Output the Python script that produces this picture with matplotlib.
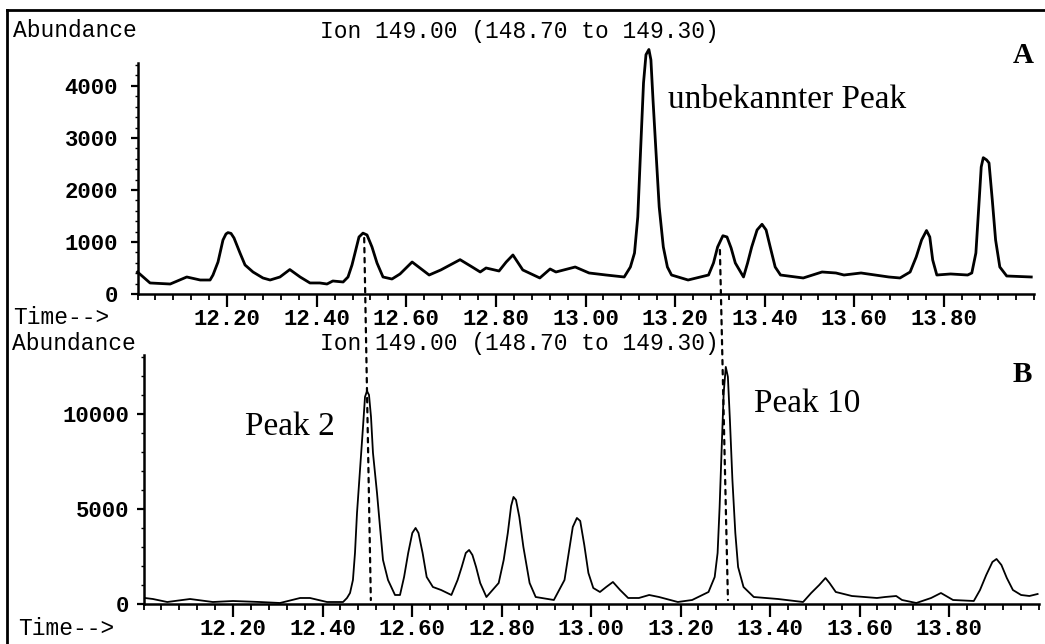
import matplotlib
matplotlib.use('Agg')
import matplotlib.pyplot as plt
from matplotlib.lines import Line2D
from matplotlib.patches import ConnectionPatch
from matplotlib.ticker import MultipleLocator, FixedLocator

# --- Chromatogramm A (Ion 149) ---
time_a = [12.000, 12.028, 12.073, 12.110, 12.140, 12.162, 12.1685, 12.1797, 12.1908, 12.1975,
          12.2020, 12.2087, 12.2154, 12.2288, 12.2400, 12.2578, 12.280, 12.296, 12.318, 12.340,
          12.363, 12.385, 12.407, 12.423, 12.436, 12.459, 12.4699, 12.4788, 12.4855, 12.4944,
          12.5033, 12.5123, 12.5234, 12.5346, 12.5480, 12.568, 12.586, 12.613, 12.651, 12.677,
          12.720, 12.747, 12.765, 12.778, 12.807, 12.823, 12.838, 12.860, 12.898, 12.921,
          12.934, 12.977, 13.008, 13.046, 13.0864, 13.1002, 13.1094, 13.1167, 13.1230, 13.1295,
          13.1350, 13.1415, 13.1460, 13.1507, 13.1571, 13.1645, 13.1737, 13.1828, 13.1920, 13.229,
          13.2746, 13.2857, 13.2949, 13.3067, 13.3158, 13.3250, 13.3344, 13.3527, 13.3618, 13.3710,
          13.3830, 13.3940, 13.4031, 13.4123, 13.4234, 13.4353, 13.486, 13.528, 13.559, 13.577,
          13.615, 13.677, 13.702, 13.7246, 13.7382, 13.7502, 13.7612, 13.7685, 13.7750, 13.7842,
          13.815, 13.853, 13.8623, 13.8714, 13.8788, 13.8833, 13.8879, 13.8953, 13.9007, 13.9080,
          13.9154, 13.9248, 13.9402, 13.995]
abund_a = [423, 212, 192, 327, 269, 269, 365, 615, 1038, 1154,
           1180, 1165, 1077, 788, 558, 423, 308, 269, 327, 470,
           327, 212, 212, 192, 250, 231, 327, 558, 788, 1096,
           1170, 1135, 904, 596, 327, 288, 385, 615, 365, 462,
           660, 519, 423, 500, 442, 615, 750, 462, 308, 481,
           423, 519, 404, 365, 327, 519, 788, 1481, 2769, 4058,
           4600, 4700, 4500, 3731, 2769, 1673, 904, 519, 365, 269,
           365, 596, 904, 1120, 1096, 885, 596, 327, 596, 904,
           1231, 1340, 1231, 904, 519, 365, 308, 423, 404, 365,
           404, 327, 308, 423, 712, 1038, 1220, 1096, 654, 365,
           385, 365, 404, 788, 1808, 2442, 2620, 2577, 2519, 1808,
           1038, 519, 346, 327]

# --- Chromatogramm B (Ion 149) ---
time_b = [12.003, 12.021, 12.053, 12.104, 12.155, 12.200, 12.260, 12.305, 12.350, 12.372,
          12.410, 12.446, 12.4547, 12.4615, 12.4680, 12.4726, 12.4771, 12.4838, 12.4905, 12.4950,
          12.4994, 12.5039, 12.5084, 12.5128, 12.5218, 12.5285, 12.5352, 12.5464, 12.5620, 12.5732,
          12.5823, 12.5915, 12.6007, 12.6080, 12.6145, 12.6237, 12.6328, 12.6467, 12.6650, 12.6880,
          12.7019, 12.7111, 12.7202, 12.7276, 12.7350, 12.7432, 12.7524, 12.7663, 12.7937, 12.8049,
          12.8141, 12.8215, 12.8268, 12.8324, 12.8398, 12.8489, 12.8628, 12.8764, 12.917, 12.9408,
          12.9502, 12.9593, 12.9685, 12.9759, 12.9850, 12.9942, 13.0051, 13.020, 13.034, 13.049,
          13.065, 13.083, 13.107, 13.130, 13.152, 13.194, 13.226, 13.2626, 13.2764, 13.2829,
          13.2874, 13.2921, 13.2965, 13.3012, 13.3059, 13.3104, 13.3160, 13.3225, 13.3287, 13.3408,
          13.3638, 13.418, 13.474, 13.492, 13.510, 13.524, 13.533, 13.547, 13.583, 13.639,
          13.657, 13.682, 13.695, 13.727, 13.760, 13.782, 13.809, 13.8554, 13.8693, 13.8832,
          13.8970, 13.9062, 13.9171, 13.9292, 13.9428, 13.9611, 13.9797, 13.998]
abund_b = [316, 263, 105, 263, 105, 158, 105, 53, 316, 316,
           105, 105, 316, 579, 1263, 2684, 4789, 7053, 9316, 10900,
           11200, 11000, 9842, 7947, 5842, 4053, 2316, 1263, 474, 474,
           1421, 2684, 3737, 4000, 3737, 2684, 1421, 895, 737, 474,
           1263, 1947, 2684, 2842, 2579, 1947, 1105, 368, 1105, 2316,
           3737, 5158, 5632, 5474, 4579, 3000, 1105, 368, 211, 1263,
           2684, 4053, 4526, 4368, 3105, 1632, 842, 632, 895, 1158,
           737, 316, 316, 474, 368, 105, 211, 632, 1421, 2684,
           5105, 8263, 11105, 12474, 11950, 9684, 6526, 3737, 1947, 895,
           368, 263, 105, 579, 1000, 1368, 1105, 632, 421, 316,
           368, 421, 211, 53, 316, 579, 211, 158, 737, 1526,
           2210, 2368, 2053, 1368, 737, 474, 421, 526]

x_ticks = [12.2, 12.4, 12.6, 12.8, 13.0, 13.2, 13.4, 13.6, 13.8]
x_labels = ['12.20', '12.40', '12.60', '12.80', '13.00', '13.20', '13.40', '13.60', '13.80']

W, H = 1045, 644
mono = 'Liberation Mono'
serif = 'Liberation Serif'

fig = plt.figure(figsize=(W / 100, H / 100), dpi=100, facecolor='white')


def fx(px):
    return px / W


def fy(py):
    return 1 - py / H


# Achsen (Position in Pixeln des Originals)
ax_a = fig.add_axes([fx(137.5), fy(294), fx(896), (294 - 63) / H])
ax_b = fig.add_axes([fx(143.5), fy(604), fx(895), (604 - 355) / H])

ax_a.plot(time_a, abund_a, color='black', lw=2.0, clip_on=False, solid_joinstyle='round')
ax_b.plot(time_b, abund_b, color='black', lw=1.3, clip_on=False, solid_joinstyle='round')

ax_a.set_ylim(0, 4440)
ax_b.set_ylim(0, 13100)
ax_a.set_yticks([0, 1000, 2000, 3000, 4000])
ax_b.set_yticks([0, 5000, 10000])
ax_a.yaxis.set_minor_locator(MultipleLocator(200))
ax_b.yaxis.set_minor_locator(MultipleLocator(1000))

for ax, ypad in [(ax_a, 9), (ax_b, 5.5)]:
    ax.set_xlim(12.0, 14.0)
    ax.set_facecolor('none')
    ax.spines['top'].set_visible(False)
    ax.spines['right'].set_visible(False)
    ax.spines['left'].set_linewidth(1.8)
    ax.spines['bottom'].set_linewidth(1.8)
    ax.xaxis.set_major_locator(FixedLocator(x_ticks))
    ax.set_xticklabels(x_labels)
    ax.xaxis.set_minor_locator(MultipleLocator(0.04))
    ax.tick_params(axis='x', which='major', direction='out', length=9, width=1.6, pad=2)
    ax.tick_params(axis='x', which='minor', direction='out', length=4.5, width=1.3)
    ax.tick_params(axis='y', which='major', direction='out', length=5, width=1.6, pad=ypad)
    ax.tick_params(axis='y', which='minor', direction='out', length=2.5, width=1.0)
    for lab in ax.get_xticklabels() + ax.get_yticklabels():
        lab.set_family(mono)
        lab.set_fontweight('bold')
        lab.set_fontsize(16)

# Beschriftungen oben / unten
fig.text(fx(13), fy(37), 'Abundance', family=mono, fontsize=16.5, va='baseline')
fig.text(fx(320), fy(38), 'Ion 149.00 (148.70 to 149.30)', family=mono, fontsize=16.5, va='baseline')
fig.text(fx(13), fy(324), 'Time-->', family=mono, fontsize=16.5, va='baseline')

fig.text(fx(12), fy(350), 'Abundance', family=mono, fontsize=16.5, va='baseline')
fig.text(fx(320), fy(350), 'Ion 149.00 (148.70 to 149.30)', family=mono, fontsize=16.5, va='baseline')
fig.text(fx(18), fy(635), 'Time-->', family=mono, fontsize=16.5, va='baseline')

# Peak-Beschriftungen
fig.text(fx(668), fy(108), 'unbekannter Peak', family=serif, fontsize=24, va='baseline')
fig.text(fx(245), fy(435), 'Peak 2', family=serif, fontsize=24, va='baseline')
fig.text(fx(754), fy(412), 'Peak 10', family=serif, fontsize=24, va='baseline')
fig.text(fx(1013), fy(63), 'A', family=serif, fontsize=21, fontweight='bold', va='baseline')
fig.text(fx(1013), fy(382), 'B', family=serif, fontsize=21, fontweight='bold', va='baseline')

# gepunktete Verbindungslinien zwischen A und B
for xa, ya, xb, yb in [(12.506, 1077, 12.508, 210), (13.300, 846, 13.306, 210)]:
    con = ConnectionPatch(xyA=(xa, ya), coordsA=ax_a.transData,
                          xyB=(xb, yb), coordsB=ax_b.transData,
                          color='black', lw=1.6, linestyle=(0, (2, 2.5)))
    fig.add_artist(con)

# Rahmen (oben und links)
fig.add_artist(Line2D([fx(7), 1.0], [fy(10), fy(10)], color='black', lw=2))
fig.add_artist(Line2D([fx(7), fx(7)], [fy(10), 0.0], color='black', lw=2))

fig.savefig('out.png', dpi=100, facecolor='white')
